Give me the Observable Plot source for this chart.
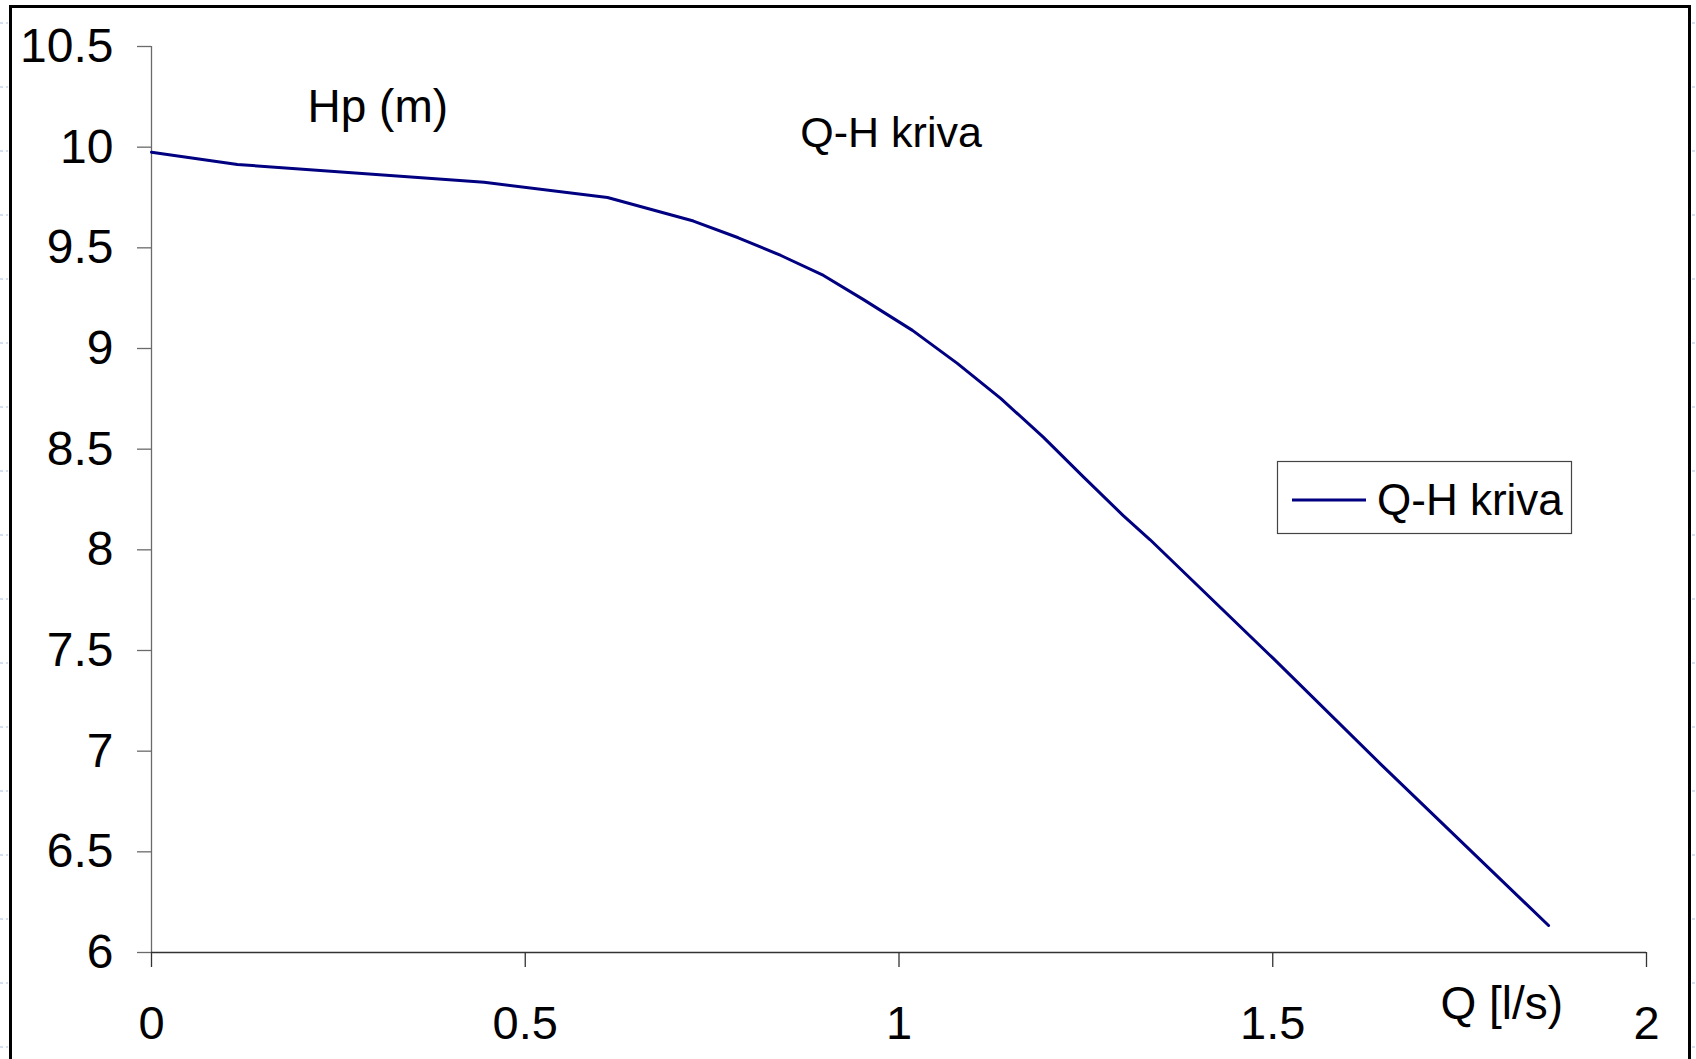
<!DOCTYPE html>
<html>
<head>
<meta charset="utf-8">
<script src="https://cdn.jsdelivr.net/npm/d3@7"></script>
<script src="https://cdn.jsdelivr.net/npm/@observablehq/plot@0.6"></script>
<style>
  html, body { margin: 0; padding: 0; background: #fff; }
  #chart { position: relative; width: 1696px; height: 1059px; overflow: hidden; }
</style>
</head>
<body>
<div id="chart"></div>
<script>
// Q-H curve data
const Q = [0, 0.115, 0.445, 0.61, 0.725, 0.785, 0.842, 0.899, 0.952, 1.018, 1.078, 1.136, 1.193, 1.247, 1.30, 1.336, 1.5, 1.644, 1.869];
const H = [9.975, 9.914, 9.826, 9.75, 9.633, 9.55, 9.462, 9.363, 9.244, 9.09, 8.926, 8.752, 8.56, 8.361, 8.17, 8.05, 7.463, 6.937, 6.134];
const xTicks = [0, 0.5, 1, 1.5, 2];
const yTicks = [6, 6.5, 7, 7.5, 8, 8.5, 9, 9.5, 10, 10.5];
const seriesName = "Q-H kriva";
const titleText = "Q-H kriva";
const yLabel = "Hp (m)";
const xLabel = "Q [l/s)";

const data = Q.map((q, i) => ({Q: q, H: H[i]}));

const W = 1696, HT = 1059;
const FONT = "'Liberation Sans', Arial, sans-serif";
const plot = Plot.plot({
  width: W,
  height: HT,
  marginLeft: 151,
  marginRight: 50,
  marginTop: 46,
  marginBottom: 107,
  style: {fontFamily: FONT, fontSize: "46px", color: "#000", background: "transparent", overflow: "visible"},
  x: {domain: [0, 2]},
  y: {domain: [6, 10.5]},
  marks: [
    Plot.ruleX([0], {stroke: "#6a6a6a", strokeWidth: 1.3}),
    Plot.ruleY([6], {stroke: "#333", strokeWidth: 1.3}),
    Plot.axisY({ticks: yTicks, tickFormat: d => String(d), tickSize: 14, tickPadding: 24, stroke: "#6a6a6a", strokeWidth: 1.3, fill: "#000", fontSize: 48, label: null}),
    Plot.axisX({ticks: xTicks, tickFormat: d => String(d), tickSize: 15, tickPadding: 38, stroke: "#333", strokeWidth: 1.3, fill: "#000", fontSize: 47, label: null}),
    Plot.line(data, {x: "Q", y: "H", stroke: "#000080", strokeWidth: 3, curve: "linear"}),
    Plot.text([yLabel], {x: 0.2087, y: 10.123, text: d => d, textAnchor: "start", lineAnchor: "bottom", fontSize: 46, fill: "#000"}),
    Plot.text([titleText], {x: 0.868, y: 10.0, text: d => d, textAnchor: "start", lineAnchor: "bottom", fontSize: 43, fill: "#000"}),
    Plot.text([xLabel], {x: 1.7244, y: 5.67, text: d => d, textAnchor: "start", lineAnchor: "bottom", fontSize: 46, fill: "#000"})
  ]
});
document.getElementById("chart").appendChild(plot);

// decorations: legend, outer border, sheet gridline remnants
const svg = d3.select(plot);
const g = svg.append("g");
const gridYs = d3.range(23, HT, 64);
g.selectAll("line.gl").data(gridYs).join("line")
  .attr("x1", 0).attr("x2", 8).attr("y1", d => d).attr("y2", d => d)
  .attr("stroke", "#c6d4f0").attr("stroke-width", 1.5).attr("stroke-dasharray", "3,3");
g.selectAll("line.gr").data(gridYs).join("line")
  .attr("x1", 1692).attr("x2", 1696).attr("y1", d => d).attr("y2", d => d)
  .attr("stroke", "#c6d4f0").attr("stroke-width", 1.5).attr("stroke-dasharray", "3,3");
g.append("rect").attr("x", 10.5).attr("y", 6.5).attr("width", 1679).attr("height", 1100)
  .attr("fill", "none").attr("stroke", "#000").attr("stroke-width", 3);
const lg = g.append("g");
lg.append("rect").attr("x", 1277.5).attr("y", 461.5).attr("width", 294).attr("height", 72)
  .attr("fill", "#fff").attr("stroke", "#444").attr("stroke-width", 1.2);
lg.append("line").attr("x1", 1292).attr("x2", 1366).attr("y1", 500).attr("y2", 500)
  .attr("stroke", "#000080").attr("stroke-width", 3);
lg.append("text").attr("x", 1377).attr("y", 515).attr("font-size", 44)
  .attr("text-anchor", "start")
  .attr("font-family", FONT).attr("fill", "#000").text(seriesName);
</script>
</body>
</html>
